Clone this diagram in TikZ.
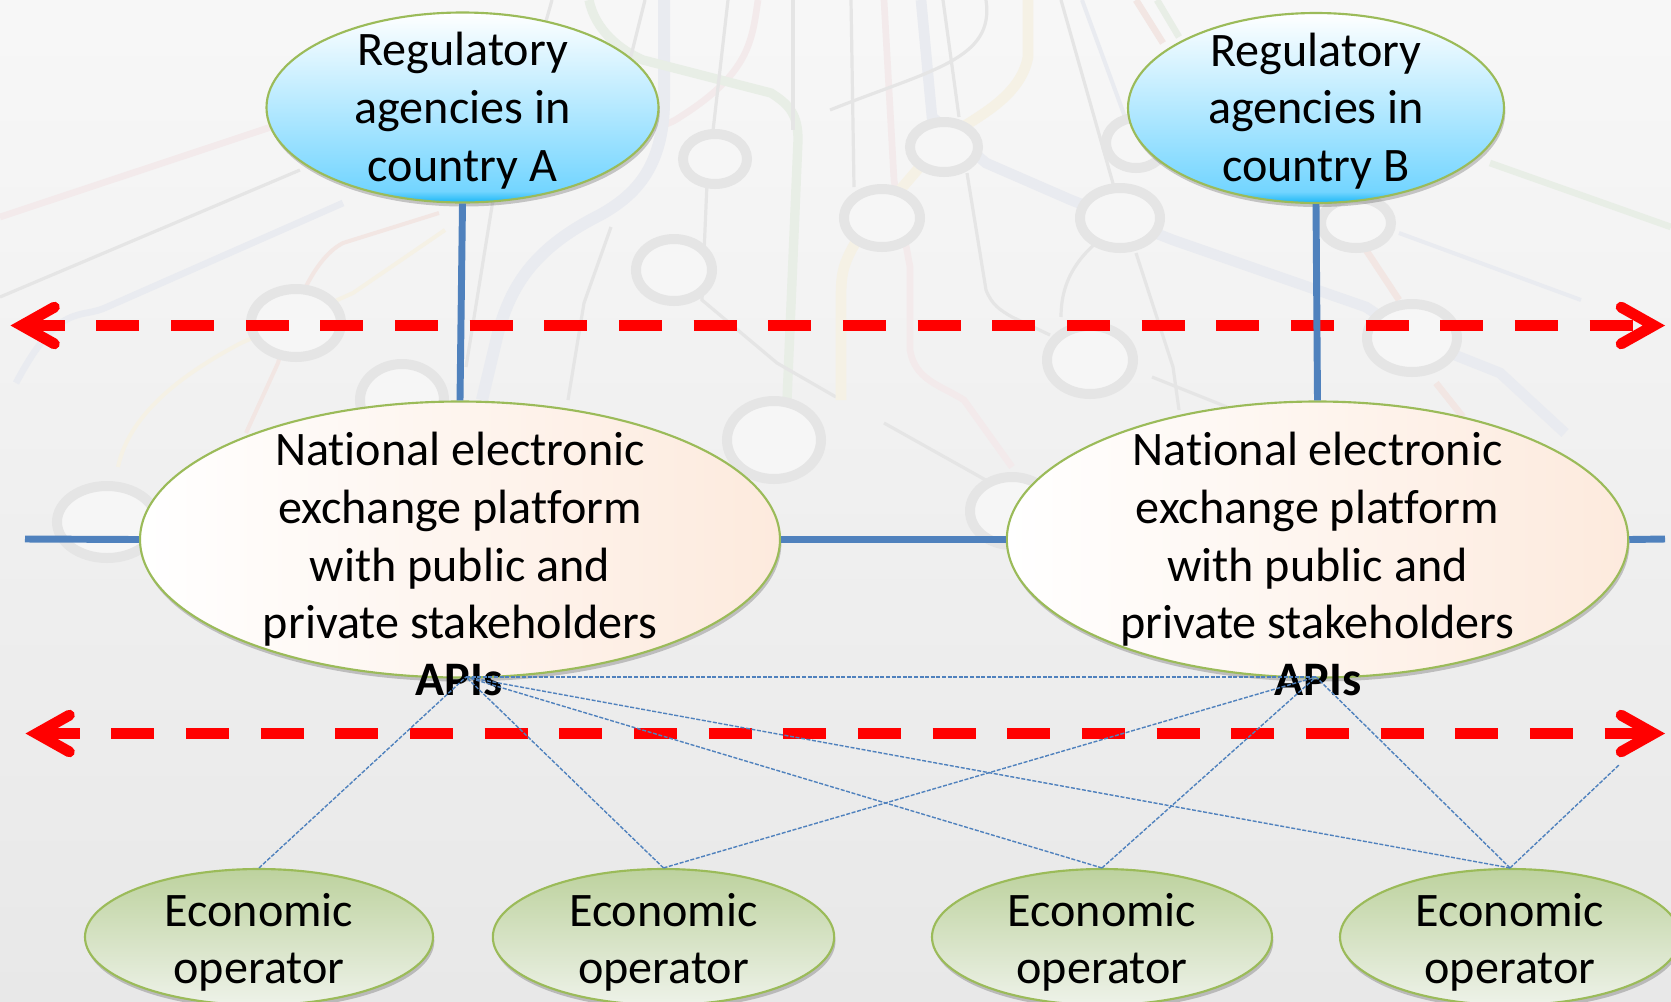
\documentclass[tikz,border=0pt]{standalone}
\usepackage{fontspec}
\setmainfont{Carlito}[Ligatures=NoCommon]
\usetikzlibrary{arrows.meta}
\usetikzlibrary{shapes.geometric}
\usetikzlibrary{shadows}
\definecolor{linkblue}{HTML}{4F81BD}
\definecolor{rimgreen}{HTML}{9BBB59}
\definecolor{regdeep}{HTML}{1BB7F5}
\definecolor{regmid}{HTML}{73D5FF}
\definecolor{ecotop}{HTML}{BDD29E}
\definecolor{ecobot}{HTML}{EEF2E9}
\definecolor{platpeach}{HTML}{FDEADD}
\definecolor{bgpink}{HTML}{F3EAEB}
\definecolor{bgblue}{HTML}{E9EBF0}
\definecolor{bgyellow}{HTML}{F5F1E5}
\definecolor{bggreen}{HTML}{E8EEE6}
\definecolor{bgred}{HTML}{F2E6E3}
\definecolor{bgline}{HTML}{E5E5E5}
\pgfdeclareverticalshading{regshade}{100bp}{color(0bp)=(regdeep);color(25bp)=(regdeep);color(28bp)=(regmid);color(75bp)=(white);color(100bp)=(white)}
\tikzset{
  bubble/.style={shape=ellipse,draw=rimgreen,line width=1.6pt,inner sep=-30pt,align=center,
    font=\fontsize{36.1}{43.3}\selectfont,
    drop shadow={shadow xshift=1pt,shadow yshift=-3pt,fill=black,opacity=.2}},
  regbubble/.style={bubble,shading=regshade,text height=116.4pt},
  platbubble/.style={bubble,left color=white,right color=platpeach},
  ecobubble/.style={bubble,top color=ecotop,bottom color=ecobot,text height=76pt},
  apilabel/.style={inner sep=0pt,font=\fontsize{36.1}{43.3}\selectfont\bfseries},
  link/.style={draw=linkblue,line width=5.2pt},
  thinlink/.style={draw=linkblue,line width=1.05pt,dash pattern=on 3pt off 1.2pt},
  redarrow/.style={draw=red,line width=8.2pt,dash pattern=on 32.25pt off 23.74pt,
    {Straight Barb[length=24.5pt,width=27.5pt,line cap=round,line join=miter]}-{Straight Barb[length=24.5pt,width=27.5pt,line cap=round,line join=miter]}},
  bggray/.style={draw=bgline,line width=2.4pt},
  bgwide/.style={line width=5pt},
  ring/.style={draw=bgline,line width=7.5pt,fill=black!3.5}
}
\begin{document}
\begin{tikzpicture}[x=.75pt,y=-.75pt]
\useasboundingbox (0,0) rectangle (1671,1001);
\clip (0,0) rectangle (1671,1001);
\shade[top color=black!3,bottom color=black!9] (0,0) rectangle (1671,1001);
\draw[bgwide,draw=bgpink] (0,217) -- (268,128) .. controls (430,80) and (620,160) .. (680,117) .. controls (750,73) and (752,40) .. (758,0);
\draw[bgwide,draw=bgblue] (16,383) .. controls (60,300) and (80,320) .. (107,307) -- (343,203);
\draw[bggray] (0,297) -- (300,170);
\draw[bgwide,draw=bgred,line width=3pt] (246,433) -- (278,363) .. controls (290,320) and (310,260) .. (343,243) -- (439,213);
\draw[bgwide,draw=bgyellow,line width=3pt] (118,467) .. controls (130,410) and (190,370) .. (241,343) -- (353,293) -- (445,230);
\draw[bgwide,draw=bgblue,line width=9pt] (664,0) -- (664,100) .. controls (664,170) and (632,197) .. (600,215) .. controls (530,250) and (510,290) .. (498,333) -- (482,400);
\draw[bgwide,draw=bggreen,line width=7pt] (589,0) .. controls (595,30) and (620,50) .. (643,60) -- (771,93) .. controls (790,105) and (798,115) .. (798,140) -- (787,400);
\draw[bggray] (552,0) -- (535,60);
\draw[bggray] (645,0) -- (625,80);
\draw[bggray] (728,0) -- (707,183) -- (702,300) -- (777,363) -- (836,397);
\draw[bggray] (793,0) -- (793,130);
\draw[bggray] (493,200) -- (466,367);
\draw[bggray] (611,227) -- (584,303) -- (568,400);
\draw[bggray] (851,0) -- (854,187);
\draw[bgwide,draw=bgpink] (884,0) -- (894,180) -- (910,267) -- (910,350) .. controls (915,380) and (940,385) .. (964,400) -- (1012,467);
\draw[bgwide,draw=bgblue,line width=8pt] (921,0) -- (932,117) -- (986,163) -- (1071,200) -- (1173,240) -- (1366,307) -- (1412,338) -- (1500,373) -- (1565,433);
\draw[bggray] (943,0) -- (959,117);
\draw[bggray] (967,173) -- (986,290) .. controls (992,305) and (1000,310) .. (1012,317) -- (1050,335);
\draw[bgwide,draw=bgyellow,line width=8pt] (1028,0) -- (1028,57) .. controls (1020,100) and (970,120) .. (943,140) -- (857,240) .. controls (842,265) and (841,275) .. (841,300) -- (841,400);
\draw[bggray] (986,0) .. controls (995,60) and (930,70) .. (830,110);
\draw[bggray] (1061,0) -- (1114,187);
\draw[bgwide,draw=bgblue,line width=3pt] (1082,0) -- (1125,117);
\draw[bgwide,draw=bgred] (1136,0) -- (1163,43);
\draw[bgwide,draw=bggreen] (1157,0) -- (1179,37);
\draw[bgwide,draw=bggreen] (1490,163) -- (1671,227);
\draw[bgwide,draw=bgblue,line width=3pt] (1399,233) -- (1581,300);
\draw[bgwide,draw=bgred] (1366,250) -- (1399,300);
\draw[bgwide,draw=bgred] (1436,383) -- (1463,417);
\draw[bggray] (1136,253) -- (1173,367) -- (1179,410);
\draw[bggray] (1109,233) .. controls (1070,260) and (1061,290) .. (1061,317);
\draw[bggray] (1152,377) -- (1227,407);
\draw[bggray] (884,423) -- (991,483);
\foreach \x/\y/\rx/\ry in {715/159/32/25,674/270/38/31,296/323/45/34,944/147/34/25,882/218/38/29,1120/218/40/30,1356/223/35/25,1136/143/30/25,1090/360/43/34,1412/338/45/34,774/440/47/39,402/400/42/36,107/522/50/36,1012/511/42/34}
  \draw[ring] (\x,\y) ellipse [x radius=\rx,y radius=\ry];
\draw (462.5,107.5) node (regA) [regbubble,minimum width=294pt,minimum height=142.5pt] {Regulatory\\agencies in\\country A};
\draw (1316,108) node (regB) [regbubble,minimum width=282pt,minimum height=142.5pt] {Regulatory\\agencies in\\country B};
\draw (460,539.5) node (platA) [platbubble,minimum width=480pt,minimum height=207pt] {National electronic\\exchange platform\\with public and\\private stakeholders};
\draw (1317.5,539.5) node (platB) [platbubble,minimum width=466pt,minimum height=207pt] {National electronic\\exchange platform\\with public and\\private stakeholders};
\draw (259,937) node (ecoA) [ecobubble,minimum width=261pt,minimum height=102pt] {Economic\\operator};
\draw (663.5,937) node (ecoB) [ecobubble,minimum width=256pt,minimum height=102pt] {Economic\\operator};
\draw (1102,937) node (ecoC) [ecobubble,minimum width=255pt,minimum height=102pt] {Economic\\operator};
\draw (1510,937) node (ecoD) [ecobubble,minimum width=255pt,minimum height=102pt] {Economic\\operator};
\draw (459,680) node (apiA) [apilabel] {APIs};
\draw (1318,680) node (apiB) [apilabel] {APIs};
\coordinate (upL) at (10.5,325.5);
\coordinate (upR) at (1665,325.5);
\coordinate (lowL) at (25.5,733.5);
\coordinate (lowR) at (1665,733.5);
\coordinate (busL) at (25,539);
\coordinate (busR) at (1665,539);
\coordinate (portA) at (466,677);
\coordinate (portB) at (1316,677);
\coordinate (stubD) at (1619,765);
\draw[redarrow,dash phase=4pt] (upL) -- (upR);
\draw[redarrow,dash phase=4pt] (lowL) -- (lowR);
\draw[link] (regA.south) -- (platA.north);
\draw[link] (regB.south) -- (platB.north);
\draw[link] (busL) -- (platA.west);
\draw[link] (platA.east) -- (platB.west);
\draw[link] (platB.east) -- (busR);
\draw[thinlink] (portA) -- (portB);
\foreach \e in {ecoA,ecoB,ecoC,ecoD}
  \draw[thinlink] (\e.north) -- (portA);
\foreach \e in {ecoB,ecoC,ecoD}
  \draw[thinlink] (\e.north) -- (portB);
\draw[thinlink] (ecoD.north) -- (stubD);
\end{tikzpicture}
\end{document}
